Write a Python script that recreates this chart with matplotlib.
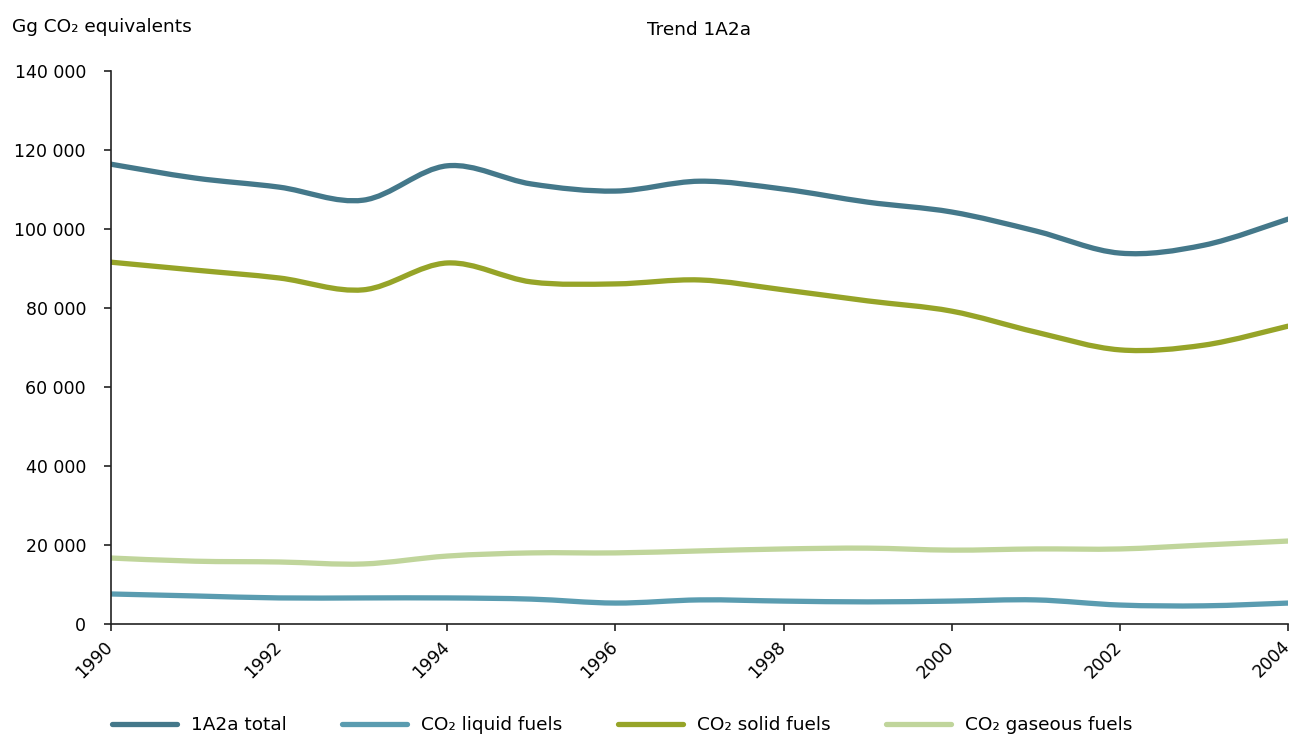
import matplotlib.pyplot as plt
import numpy as np
from matplotlib.path import Path
from matplotlib.patches import PathPatch
from matplotlib.lines import Line2D
from matplotlib.ticker import FuncFormatter
from matplotlib.transforms import ScaledTranslation

years = list(range(1990, 2005))

# values in thousand Gg CO2 equivalents
total = [116.4, 112.9, 110.6, 107.3, 116.0, 111.4, 109.6, 112.1, 110.1, 106.8,
         104.3, 99.5, 93.9, 95.9, 102.5]
liquid = [7.6, 7.1, 6.6, 6.6, 6.6, 6.3, 5.3, 6.1, 5.8, 5.6, 5.8, 6.1, 4.8, 4.6, 5.3]
solid = [91.6, 89.6, 87.6, 84.6, 91.4, 86.6, 86.1, 87.1, 84.6, 81.8, 79.2, 73.9,
         69.4, 70.6, 75.4]
gaseous = [16.7, 15.9, 15.7, 15.2, 17.2, 18.0, 18.0, 18.5, 19.0, 19.2, 18.7, 19.0,
           19.0, 20.0, 21.0]

labels = ["1A2a total", "CO\u2082 liquid fuels", "CO\u2082 solid fuels", "CO\u2082 gaseous fuels"]
colors = ["#44788a", "#5a9cb0", "#96a428", "#c0d59b"]
yticks = [0, 20000, 40000, 60000, 80000, 100000, 120000, 140000]


def smooth_path(x, y, t=0.5):
    # catmull-rom style bezier through the data points
    x = np.asarray(x, float)
    y = np.asarray(y, float)
    verts = [(x[0], y[0])]
    codes = [Path.MOVETO]
    n = len(x)
    for i in range(n - 1):
        i0 = max(i - 1, 0)
        i3 = min(i + 2, n - 1)
        c1 = (x[i] + (x[i + 1] - x[i0]) * t / 3, y[i] + (y[i + 1] - y[i0]) * t / 3)
        c2 = (x[i + 1] - (x[i3] - x[i]) * t / 3, y[i + 1] - (y[i3] - y[i]) * t / 3)
        verts += [c1, c2, (x[i + 1], y[i + 1])]
        codes += [Path.CURVE4] * 3
    return Path(verts, codes)


plt.rcParams["font.family"] = "DejaVu Sans"
plt.rcParams["font.size"] = 13.3

fig = plt.figure(figsize=(12.94, 7.36), dpi=100)
ax = fig.add_axes([111 / 1294, 1 - 624 / 736, (1288 - 111) / 1294, (624 - 71) / 736])

series = [total, liquid, solid, gaseous]
for vals, col in zip(series, colors):
    yv = [v * 1000 for v in vals]
    patch = PathPatch(smooth_path(years, yv), facecolor="none", edgecolor=col,
                      lw=3.8, capstyle="round", joinstyle="round")
    ax.add_patch(patch)

ax.set_xlim(1990, 2004)
ax.set_ylim(0, 140000)
ax.set_xticks(range(1990, 2005, 2))
ax.set_yticks(yticks)
ax.yaxis.set_major_formatter(FuncFormatter(lambda v, p: f"{int(v):,}".replace(",", " ")))

for s in ["top", "right"]:
    ax.spines[s].set_visible(False)
for s in ["left", "bottom"]:
    ax.spines[s].set_color("#222222")
    ax.spines[s].set_linewidth(1.2)
ax.tick_params(axis="both", direction="out", length=5, width=1.2, color="#222222",
               labelsize=12.5)
ax.tick_params(axis="y", pad=13)
ax.tick_params(axis="x", pad=4)

shift = ScaledTranslation(-7 / 100, -1 / 100, fig.dpi_scale_trans)
for lab in ax.get_xticklabels():
    lab.set_rotation(45)
    lab.set_ha("right")
    lab.set_rotation_mode("anchor")
    lab.set_transform(lab.get_transform() + shift)

fig.text(12 / 1294, 1 - 27 / 736, "Gg CO\u2082 equivalents", ha="left", va="center")
fig.text(699 / 1294, 1 - 30 / 736, "Trend 1A2a", ha="center", va="center")

handles = [Line2D([], [], color=c, lw=3.8, solid_capstyle="round") for c in colors]
fig.legend(handles, labels, loc="center left", bbox_to_anchor=(112 / 1294, 1 - 725 / 736),
           ncol=4, frameon=False, handlelength=3.5, columnspacing=3.0, handletextpad=0.78,
           borderaxespad=0, borderpad=0)

fig.savefig("out.png", dpi=100)
